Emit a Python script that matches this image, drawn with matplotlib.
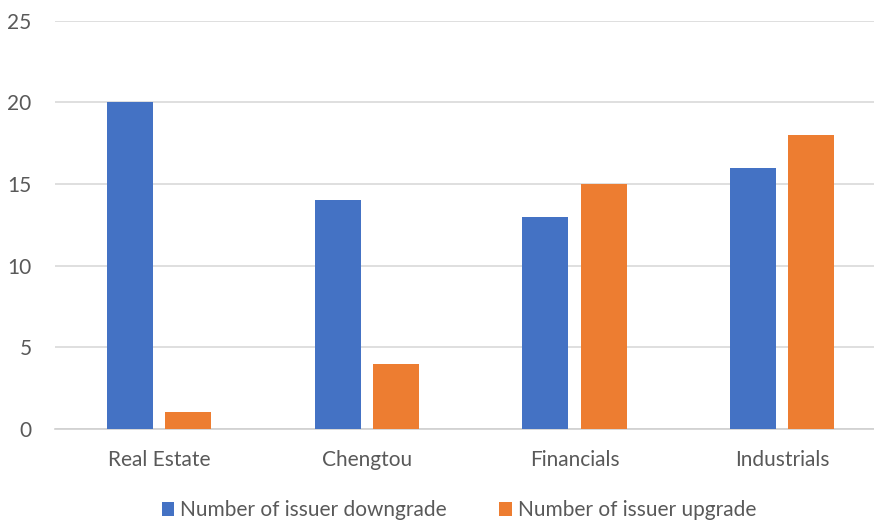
import matplotlib.pyplot as plt
import numpy as np

categories = ["Real Estate", "Chengtou", "Financials", "Industrials"]
downgrade = [20, 14, 13, 16]
upgrade = [1, 4, 15, 18]

plt.rcParams['font.family'] = ['Lato', 'DejaVu Sans']

fig = plt.figure(figsize=(8.74, 5.21), dpi=100)
# right edge runs past the figure, as in the reference the gridlines reach the border
ax = fig.add_axes([0.063, 0.177, 0.951, 0.783])

x = np.arange(len(categories))
w = 0.221
ax.bar(x - 0.14, downgrade, w, color='#4472C4', label='Number of issuer downgrade', zorder=3)
ax.bar(x + 0.14, upgrade, w, color='#ED7D31', label='Number of issuer upgrade', zorder=3)

ax.set_xlim(-0.5, 3.5)
ax.set_ylim(0, 25)
ax.set_yticks(range(0, 26, 5))
ax.set_xticks(x)
ax.set_xticklabels(categories)
ax.grid(axis='y', color='#D9D9D9', linewidth=1.2, zorder=0)
for s in ['top', 'right', 'left']:
    ax.spines[s].set_visible(False)
ax.spines['bottom'].set_color('#D0D0D0')
ax.spines['bottom'].set_linewidth(1.2)
ax.tick_params(axis='both', length=0, labelsize=15, colors='#595959')
ax.tick_params(axis='x', pad=15)
ax.tick_params(axis='y', pad=17)

ax.legend(loc='center', bbox_to_anchor=(0.486, -0.2), ncol=2, frameon=False,
          fontsize=15, labelcolor='#595959', handlelength=0.6, handleheight=0.6,
          handletextpad=0.3, columnspacing=2.5)

fig.savefig('out.png')
